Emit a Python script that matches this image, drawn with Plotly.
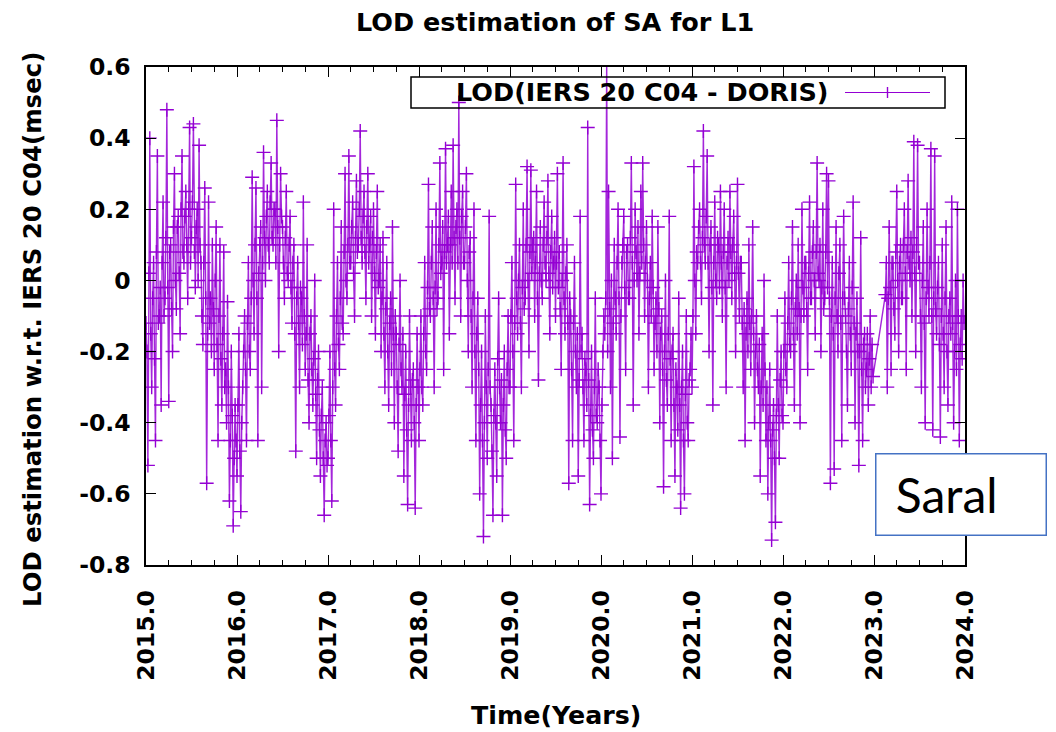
import plotly.graph_objects as go

# ---------------- data (~96 samples per year) ----------------
years = [2015, 2016, 2017, 2018, 2019, 2020, 2021, 2022, 2023]
samples_per_year = 96
first_sample = [0, 0, 0, 0, 0, 0, 0, 0, 12]   # 2023 resumes after a data gap

lod_2015 = [-0.12, -0.20, -0.52, 0.02, 0.40, -0.15, -0.30, -0.05, 0.05, -0.22, -0.45, 0.08, 0.35, -0.12, -0.10, -0.02,
            -0.35, 0.05, 0.22, -0.10, -0.05, 0.12, 0.48, -0.02, -0.34, 0.08, 0.10, -0.08, -0.20, 0.15, 0.30, 0.0,
            -0.08, 0.15, 0.18, 0.02, -0.15, 0.20, 0.35, 0.08, 0.05, 0.18, 0.25, 0.10, -0.05, 0.20, 0.43, 0.05,
            0.12, 0.22, 0.44, 0.08, -0.02, 0.15, 0.20, 0.0, 0.38, 0.10, 0.05, -0.10, -0.18, 0.05, 0.26, -0.05,
            -0.57, -0.15, 0.22, -0.12, -0.05, -0.20, 0.10, -0.08, -0.25, 0.0, 0.15, -0.18, -0.45, -0.10, 0.10, -0.22,
            -0.35, -0.15, 0.08, -0.30, -0.25, -0.40, -0.06, -0.30, -0.62, -0.45, -0.20, -0.38, -0.69, -0.50, -0.35, -0.45]
lod_2016 = [-0.55, -0.35, -0.15, -0.48, -0.65, -0.40, -0.30, -0.20, -0.10, -0.25, -0.45, -0.12, 0.05, -0.20, -0.25, -0.05,
            0.29, 0.0, -0.15, 0.10, 0.26, -0.05, -0.45, 0.02, 0.10, 0.15, -0.30, 0.05, 0.36, 0.12, 0.0, 0.18,
            0.25, 0.10, 0.05, 0.22, 0.33, 0.12, 0.10, 0.20, 0.20, 0.05, 0.45, 0.15, -0.20, 0.10, 0.30, 0.18,
            0.15, 0.05, -0.05, 0.12, 0.25, 0.02, 0.0, 0.10, 0.18, -0.02, -0.12, 0.05, 0.10, -0.15, -0.48, -0.05,
            0.05, -0.12, -0.30, -0.02, -0.05, -0.18, 0.22, -0.10, -0.25, -0.15, 0.10, -0.28, -0.40, -0.15, -0.10, -0.25,
            -0.35, -0.22, 0.0, -0.32, -0.50, -0.28, -0.20, -0.42, -0.55, -0.38, -0.30, -0.50, -0.66, -0.45, -0.40, -0.52]
lod_2017 = [-0.50, -0.38, -0.20, -0.45, -0.62, -0.30, 0.20, -0.25, -0.35, -0.10, 0.05, -0.18, -0.25, -0.05, 0.15, -0.12,
            -0.15, 0.08, 0.30, 0.0, -0.05, 0.10, 0.35, 0.05, 0.05, 0.15, 0.22, 0.02, -0.10, 0.12, 0.28, 0.08,
            0.10, 0.20, 0.42, 0.12, 0.05, 0.18, 0.25, 0.08, -0.05, 0.15, 0.30, 0.05, 0.10, 0.18, -0.10, 0.12,
            0.20, 0.02, -0.15, 0.08, 0.25, -0.02, 0.0, 0.10, -0.20, -0.05, 0.12, -0.15, -0.30, -0.08, 0.05, -0.20,
            -0.35, -0.12, -0.05, -0.25, 0.15, -0.15, -0.40, -0.10, -0.15, -0.30, -0.48, -0.18, 0.0, -0.25, -0.30, -0.15,
            -0.55, -0.32, -0.20, -0.42, -0.63, -0.35, -0.10, -0.30, -0.45, -0.28, -0.25, -0.40, -0.64, -0.35, -0.15, -0.30]
lod_2018 = [-0.45, -0.25, -0.10, -0.30, -0.35, -0.15, 0.05, -0.20, -0.25, -0.02, 0.27, -0.08, -0.10, 0.05, 0.15, -0.05,
            -0.30, -0.02, 0.20, -0.08, -0.05, 0.10, 0.33, 0.02, 0.05, 0.15, -0.25, 0.08, 0.37, 0.05, 0.10, 0.18,
            -0.15, 0.10, 0.25, 0.05, 0.38, 0.12, -0.05, 0.15, 0.20, 0.05, 0.50, 0.12, -0.10, 0.18, 0.25, 0.05,
            0.05, 0.15, 0.30, 0.0, -0.20, 0.08, 0.12, -0.10, -0.30, -0.05, 0.20, -0.20, -0.45, -0.15, -0.05, -0.25,
            -0.60, -0.35, -0.20, -0.45, -0.72, -0.40, -0.10, -0.30, -0.50, -0.25, 0.18, -0.30, -0.35, -0.48, -0.66, -0.38,
            -0.25, -0.40, -0.55, -0.22, -0.05, -0.30, -0.40, -0.28, -0.66, -0.35, -0.20, -0.42, -0.50, -0.25, -0.10, -0.30]
lod_2019 = [-0.30, -0.10, 0.05, -0.20, -0.45, -0.12, 0.27, -0.05, -0.15, 0.0, 0.10, -0.12, -0.30, -0.02, 0.20, -0.08,
            -0.05, 0.10, 0.32, 0.0, -0.20, 0.08, 0.31, 0.02, 0.10, 0.12, -0.10, 0.05, 0.25, -0.05, -0.28, 0.02,
            0.15, 0.0, -0.05, 0.10, 0.22, 0.05, 0.0, 0.12, 0.28, 0.02, -0.15, 0.08, 0.18, -0.02, 0.05, 0.12,
            -0.10, 0.05, 0.30, -0.02, 0.08, -0.08, -0.25, 0.0, 0.33, -0.05, -0.15, 0.02, 0.10, -0.12, -0.57, -0.05,
            -0.10, -0.25, -0.45, -0.12, 0.05, -0.20, -0.30, -0.15, -0.55, -0.28, 0.18, -0.20, -0.15, -0.30, -0.45, -0.22,
            -0.25, -0.35, 0.43, -0.28, -0.63, -0.38, -0.20, -0.42, -0.50, -0.30, -0.05, -0.38, -0.40, -0.25, -0.30, -0.45]
lod_2020 = [-0.60, -0.35, -0.20, -0.10, -0.15, -0.05, 0.63, -0.20, 0.25, -0.08, -0.30, 0.0, -0.50, -0.12, 0.10, -0.05,
            -0.15, 0.05, 0.20, -0.05, -0.44, -0.10, 0.05, 0.10, 0.18, -0.02, -0.25, 0.08, 0.10, -0.05, -0.05, 0.12,
            0.33, 0.05, -0.35, 0.0, 0.20, 0.08, 0.0, 0.15, -0.15, 0.02, 0.25, 0.05, 0.33, 0.10, -0.10, 0.05,
            0.15, 0.0, -0.30, -0.05, 0.05, -0.10, 0.18, -0.02, -0.25, -0.12, -0.05, -0.20, 0.15, -0.08, -0.40, -0.15,
            -0.10, -0.25, -0.58, -0.20, 0.0, -0.28, -0.35, -0.15, 0.18, -0.22, -0.45, -0.20, -0.15, -0.35, -0.55, -0.25,
            -0.30, -0.42, -0.05, -0.35, -0.64, -0.30, -0.20, -0.45, -0.60, -0.32, -0.10, -0.40, -0.45, -0.28, -0.25, -0.15]
lod_2021 = [-0.30, -0.10, 0.32, 0.0, -0.15, 0.08, 0.05, 0.15, 0.20, 0.05, -0.05, 0.12, 0.42, 0.10, 0.05, 0.18,
            0.35, 0.05, -0.20, 0.10, 0.15, -0.02, -0.35, 0.05, 0.22, 0.0, -0.05, 0.12, 0.10, -0.02, 0.25, 0.05,
            -0.10, 0.08, 0.20, -0.02, -0.30, 0.05, 0.12, 0.0, 0.25, 0.08, -0.05, 0.10, 0.18, 0.02, -0.20, 0.05,
            0.27, 0.02, -0.10, 0.05, 0.05, -0.12, -0.30, -0.08, -0.45, -0.15, -0.05, -0.20, 0.10, -0.12, -0.25, -0.10,
            0.15, -0.15, -0.40, -0.20, -0.10, -0.25, -0.30, -0.18, -0.55, -0.30, -0.15, -0.35, 0.0, -0.25, -0.45, -0.30,
            -0.60, -0.40, -0.25, -0.45, -0.73, -0.42, -0.35, -0.50, -0.68, -0.38, -0.10, -0.35, -0.50, -0.28, -0.20, -0.38]
lod_2022 = [-0.40, -0.20, -0.05, -0.25, -0.30, -0.12, 0.05, -0.18, -0.20, -0.05, 0.15, -0.15, -0.35, -0.08, 0.0, -0.15,
            0.10, -0.08, -0.40, -0.10, 0.20, -0.02, -0.10, 0.05, 0.05, -0.08, -0.25, 0.02, 0.22, -0.05, -0.05, 0.08,
            0.15, 0.0, -0.15, 0.08, 0.33, 0.02, 0.0, 0.10, -0.20, -0.02, 0.20, -0.08, -0.05, 0.08, 0.30, -0.02,
            0.28, -0.05, -0.57, -0.10, 0.05, -0.15, -0.53, -0.05, 0.15, -0.10, -0.20, 0.02, 0.10, -0.12, -0.45, -0.05,
            0.18, -0.05, -0.10, -0.20, -0.35, -0.08, 0.05, -0.15, -0.25, -0.02, 0.22, -0.12, -0.40, -0.15, -0.05, -0.20,
            -0.52, -0.20, 0.12, -0.25, -0.45, -0.18, -0.15, -0.30, -0.25, -0.15, -0.35, -0.22, -0.10, -0.30, -0.18, -0.27]
lod_2023 = [-0.04, 0.05, -0.30, -0.05,
            0.15, -0.02, -0.25, 0.05, 0.05, -0.08, -0.15, 0.08, 0.25, 0.0, -0.20, 0.05, 0.10, -0.05, -0.05, 0.10,
            0.20, 0.02, -0.25, 0.08, 0.28, 0.05, 0.0, 0.12, -0.10, 0.08, 0.39, 0.02, -0.20, 0.10, 0.38, 0.05,
            0.05, -0.10, -0.30, 0.0, 0.15, -0.12, -0.40, -0.05, 0.20, -0.02, -0.10, 0.05, 0.37, -0.10, -0.42, -0.05,
            0.35, -0.08, -0.15, -0.02, 0.05, -0.18, -0.44, -0.10, 0.10, -0.15, -0.30, -0.05, 0.15, -0.20, -0.35, -0.10,
            -0.05, -0.15, 0.22, -0.12, -0.40, -0.20, 0.0, -0.25, 0.20, -0.10, -0.45, -0.18, -0.10, -0.22, 0.0, -0.12]
lod_by_year = [lod_2015, lod_2016, lod_2017, lod_2018, lod_2019,
               lod_2020, lod_2021, lod_2022, lod_2023]

x_tick_values = [2015, 2016, 2017, 2018, 2019, 2020, 2021, 2022, 2023, 2024]
x_tick_labels = ["2015.0", "2016.0", "2017.0", "2018.0", "2019.0",
                 "2020.0", "2021.0", "2022.0", "2023.0", "2024.0"]
y_tick_values = [0.6, 0.4, 0.2, 0.0, -0.2, -0.4, -0.6, -0.8]
y_tick_labels = ["0.6", "0.4", "0.2", "0", "-0.2", "-0.4", "-0.6", "-0.8"]

series_name = "LOD(IERS 20 C04 - DORIS)"
title_text = "LOD estimation of SA for L1"
x_title = "Time(Years)"
y_title = "LOD estimation w.r.t. IERS 20 C04(msec)"
box_text = "Saral"

# ---------------- build time axis ----------------
t_vals, lod_vals = [], []
for yr, start, vals in zip(years, first_sample, lod_by_year):
    for i, v in enumerate(vals):
        t_vals.append(yr + (start + i) / samples_per_year)
        lod_vals.append(v)

PURPLE = "#9400D3"
FONT = "DejaVu Sans"
OFF = 8                      # page body margin
W, H = 1056 - OFF, 732 - OFF
L, R, T, B = 146 - OFF, 965 - OFF, 67 - OFF, 565 - OFF

def px(x):   # reference screen x -> paper
    return (x - OFF - L) / (R - L)

def py(y):   # reference screen y -> paper
    return (B - (y - OFF)) / (B - T)

fig = go.Figure()
fig.add_trace(go.Scatter(
    x=t_vals, y=lod_vals, mode="lines+markers", name=series_name,
    line=dict(color="rgba(148,0,211,0.85)", width=1.4),
    marker=dict(symbol="cross-thin", size=10, color=PURPLE,
                line=dict(color=PURPLE, width=1.4)),
    showlegend=False,
))

axis_common = dict(
    showline=True, linecolor="black", linewidth=1.5, mirror="ticks",
    ticks="inside", ticklen=10, tickwidth=1.2, tickcolor="black",
    showgrid=False, zeroline=False,
    tickfont=dict(family=FONT, size=23.5, color="black", weight="bold"),
)

fig.update_xaxes(
    range=[2015, 2024], tickmode="array", tickvals=x_tick_values,
    ticktext=x_tick_labels, tickangle=-90, ticklabelstandoff=14,
    minor=dict(tickmode="linear", tick0=2015, dtick=0.25, ticks="inside",
               ticklen=5, tickwidth=1, tickcolor="black"),
    **axis_common,
)
fig.update_yaxes(
    range=[-0.8, 0.6], tickmode="array", tickvals=y_tick_values,
    ticktext=y_tick_labels, ticklabelstandoff=9,
    **axis_common,
)

shapes = [
    # legend box
    dict(type="rect", xref="paper", yref="paper",
         x0=px(411), x1=px(945), y0=py(108), y1=py(77),
         line=dict(color="black", width=1.5), fillcolor="rgba(0,0,0,0)"),
    # legend sample line and cross
    dict(type="line", xref="paper", yref="paper",
         x0=px(845), x1=px(930), y0=py(92.5), y1=py(92.5),
         line=dict(color=PURPLE, width=1.2)),
    dict(type="line", xref="paper", yref="paper",
         x0=px(887.5), x1=px(887.5), y0=py(98), y1=py(87),
         line=dict(color=PURPLE, width=1.4)),
]

annotations = [
    dict(text=title_text, xref="paper", yref="paper", x=px(555), y=py(22),
         xanchor="center", yanchor="middle", showarrow=False,
         font=dict(family=FONT, size=25.5, color="black", weight="bold")),
    dict(text=x_title, xref="paper", yref="paper", x=px(556), y=py(715),
         xanchor="center", yanchor="middle", showarrow=False,
         font=dict(family=FONT, size=25.3, color="black", weight="bold")),
    dict(text=y_title, xref="paper", yref="paper", x=px(32), y=py(330),
         xanchor="center", yanchor="middle", showarrow=False, textangle=-90,
         font=dict(family=FONT, size=24.4, color="black", weight="bold")),
    dict(text=series_name, xref="paper", yref="paper", x=px(831), y=py(92.5),
         xanchor="right", yanchor="middle", showarrow=False,
         font=dict(family=FONT, size=25.5, color="black", weight="bold")),
    dict(text="\u00a0" + box_text, xref="paper", yref="paper",
         x=px(875), y=py(453), xanchor="left", yanchor="top",
         showarrow=False, width=155, height=66, align="left", valign="middle",
         borderpad=7, bordercolor="#4472C4", borderwidth=1.5, bgcolor="white",
         font=dict(family="Lato", size=48, color="black")),
]

fig.update_layout(
    width=W, height=H,
    margin=dict(l=L, r=W - R, t=T, b=H - B, pad=0),
    paper_bgcolor="white", plot_bgcolor="white",
    shapes=shapes, annotations=annotations,
    showlegend=False,
)

fig.write_html("out.html")
